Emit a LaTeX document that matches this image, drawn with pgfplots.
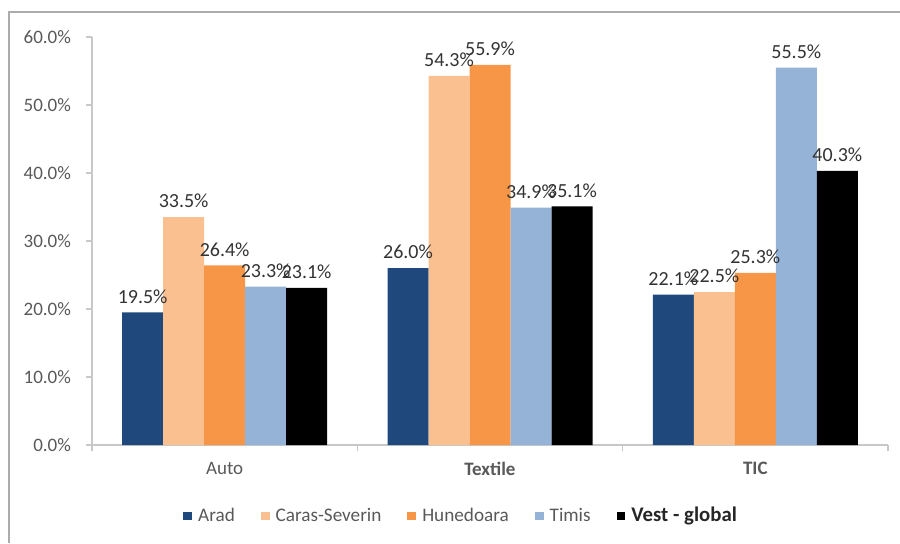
\documentclass[border=0pt]{standalone}
\usepackage{pgfplots}
\pgfplotsset{compat=1.18}
\usepackage{fontspec}
\setmainfont{Carlito}

\definecolor{arad}{RGB}{31,73,125}
\definecolor{caras}{RGB}{250,192,144}
\definecolor{hunedoara}{RGB}{247,150,70}
\definecolor{timis}{RGB}{149,179,215}
\definecolor{vest}{RGB}{0,0,0}
\definecolor{txtgray}{RGB}{89,89,89}
\definecolor{axisgray}{RGB}{200,200,200}

\begin{document}
\begin{tikzpicture}
\useasboundingbox (0,0) rectangle (450pt,271.5pt);
% outer chart frame
\draw[gray!65, line width=0.8pt] (4.5pt,0pt) -- (4.5pt,265.5pt) -- (450pt,265.5pt);
\begin{axis}[
  at={(46pt,49pt)}, anchor=south west,
  scale only axis, width=398pt, height=204pt,
  ybar=0pt, bar width=20.5pt,
  xmin=-0.5, xmax=2.5, ymin=0, ymax=60,
  axis line style={axisgray, line width=0.6pt},
  axis x line*=bottom, axis y line*=left,
  tick style={axisgray, line width=0.6pt},
  tick align=outside, major tick length=3pt,
  xtick={-0.5,0.5,1.5,2.5}, xticklabels={},
  extra x ticks={0,1,2},
  extra x tick labels={Auto,\textbf{Textile},\textbf{TIC}},
  extra x tick style={major tick length=0pt, tick label style={yshift=-5pt}},
  ytick={0,10,20,30,40,50,60},
  yticklabel={\pgfmathprintnumber[fixed,fixed zerofill,precision=1]{\tick}\%},
  /pgf/number format/assume math mode=true,
  tick label style={font=\fontsize{9.5}{11}\selectfont, text=txtgray},
  yticklabel style={xshift=-4pt},
  nodes near coords={\pgfmathprintnumber[fixed,fixed zerofill,precision=1,assume math mode=true]{\pgfplotspointmeta}\%},
  every node near coord/.append style={font=\fontsize{10}{12}\selectfont, text=black!80, yshift=1pt},
  legend columns=5,
  legend style={at={(0.465,-0.174)}, anchor=center, draw=none, fill=none,
    font=\fontsize{9.6}{11}\selectfont, text=txtgray,
    /tikz/every even column/.append style={column sep=11pt},
    /tikz/every odd column/.append style={column sep=1pt}},
  legend image code/.code={\fill[#1] (0pt,-2.2pt) rectangle (4.4pt,2.2pt);},
]
\addplot[fill=arad, draw=none] coordinates {(0,19.5) (1,26.0) (2,22.1)};
\addlegendentry{Arad}
\addplot[fill=caras, draw=none] coordinates {(0,33.5) (1,54.3) (2,22.5)};
\addlegendentry{Caras-Severin}
\addplot[fill=hunedoara, draw=none] coordinates {(0,26.4) (1,55.9) (2,25.3)};
\addlegendentry{Hunedoara}
\addplot[fill=timis, draw=none] coordinates {(0,23.3) (1,34.9) (2,55.5)};
\addlegendentry{Timis}
\addplot[fill=vest, draw=none] coordinates {(0,23.1) (1,35.1) (2,40.3)};
\addlegendentry{\textcolor{black!85}{\textbf{\fontsize{10.4}{12}\selectfont Vest - global}}}
\end{axis}
\end{tikzpicture}
\end{document}
